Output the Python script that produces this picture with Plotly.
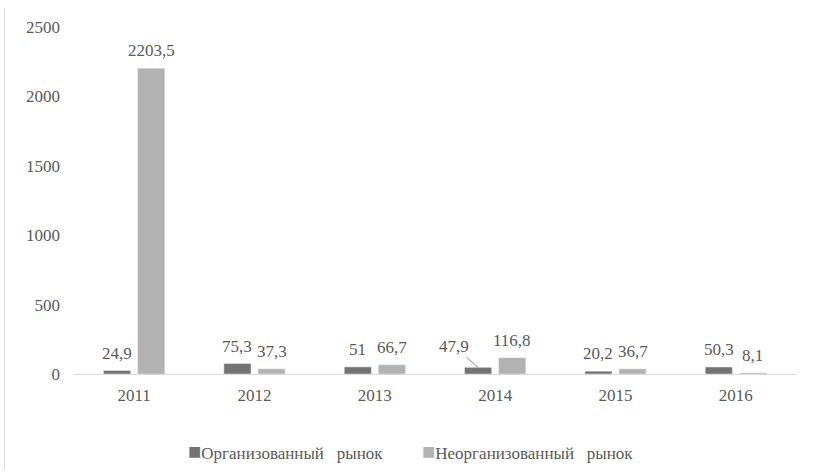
import plotly.graph_objects as go

years = ["2011", "2012", "2013", "2014", "2015", "2016"]
organized = [24.9, 75.3, 51, 47.9, 20.2, 50.3]
unorganized = [2203.5, 37.3, 66.7, 116.8, 36.7, 8.1]
organized_labels = ["24,9", "75,3", "51", "47,9", "20,2", "50,3"]
unorganized_labels = ["2203,5", "37,3", "66,7", "116,8", "36,7", "8,1"]
series_names = ["Организованный\u00a0\u00a0\u00a0рынок", "Неорганизованный\u00a0\u00a0\u00a0рынок"]

FONT = "Liberation Serif"
TXT = "#595959"
C_DARK = "#737373"
C_LIGHT = "#b2b2b2"
OFF = 0.142  # bar centre offset from category centre (category units)

fig = go.Figure()
fig.add_trace(go.Bar(x=years, y=organized, name=series_names[0], marker_color=C_DARK,
                     showlegend=False))
fig.add_trace(go.Bar(x=years, y=unorganized, name=series_names[1], marker_color=C_LIGHT,
                     showlegend=False))

lab_font = dict(family=FONT, size=17, color=TXT)
for i, (v, t) in enumerate(zip(organized, organized_labels)):
    if years[i] == "2014":
        fig.add_annotation(x=i - OFF, y=v, text=t, showarrow=True, arrowhead=0,
                           arrowwidth=1, arrowcolor="#8c8c8c", ax=-24, ay=-21,
                           standoff=0, font=lab_font)
    else:
        fig.add_annotation(x=i - OFF, y=v, text=t, showarrow=False, yanchor="bottom",
                           yshift=6, font=lab_font)
for i, (v, t) in enumerate(zip(unorganized, unorganized_labels)):
    fig.add_annotation(x=i + OFF, y=v, text=t, showarrow=False, yanchor="bottom",
                       yshift=6, font=lab_font)

# legend (square glyph + text, as in the original)
for xpos, name, col in [(0.155, series_names[0], C_DARK), (0.479, series_names[1], C_LIGHT)]:
    fig.add_annotation(xref="paper", yref="paper", x=xpos, y=-0.2245, xanchor="left",
                       yanchor="middle", showarrow=False,
                       text=f'<span style="color:{col};font-size:22px">■</span>{name}',
                       font=lab_font)

fig.add_shape(type="line", xref="paper", yref="paper", x0=-0.0963, x1=-0.0963,
              y0=1.053, y1=-0.276, line=dict(color="#d9d9d9", width=1))

fig.update_layout(
    width=813, height=474,
    margin=dict(l=74, r=17, t=27, b=100),
    paper_bgcolor="white", plot_bgcolor="white",
    barmode="group", bargap=0.433, bargroupgap=0.205,
    font=dict(family=FONT, size=17, color=TXT),
    showlegend=False,
    xaxis=dict(showline=True, linecolor="#d9d9d9", linewidth=1, ticks="",
               showgrid=False, ticklabelstandoff=6, tickfont=dict(size=17)),
    yaxis=dict(range=[0, 2500], dtick=500, showgrid=False, zeroline=False, showline=False,
               ticks="", ticklabelstandoff=13, tickfont=dict(size=17)),
)
fig.write_html("out.html")
